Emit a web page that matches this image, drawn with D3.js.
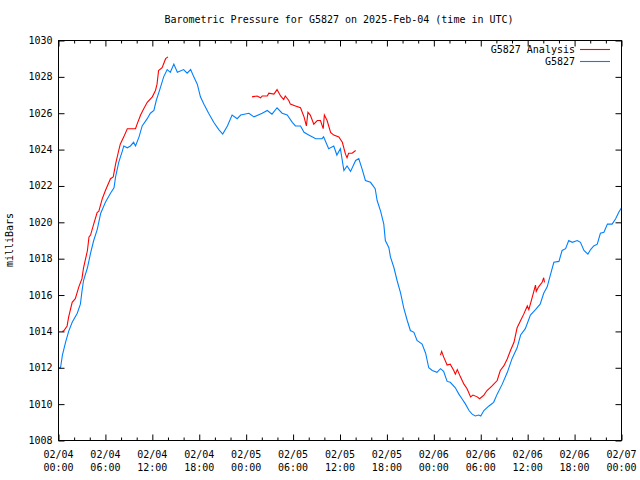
<!DOCTYPE html>
<html><head><meta charset="utf-8">
<script src="https://cdn.jsdelivr.net/npm/d3@7"></script>
<style>body{margin:0;background:#fff}svg{display:block}text{font-family:"DejaVu Sans Mono",monospace;fill:#000}</style>
</head><body>
<script>
const title = "Barometric Pressure for G5827 on 2025-Feb-04 (time in UTC)";
const yLabel = "milliBars";
const seriesNames = ["G5827 Analysis", "G5827"];
const xTickLabels = [["02/04","00:00"],["02/04","06:00"],["02/04","12:00"],["02/04","18:00"],["02/05","00:00"],["02/05","06:00"],["02/05","12:00"],["02/05","18:00"],["02/06","00:00"],["02/06","06:00"],["02/06","12:00"],["02/06","18:00"],["02/07","00:00"]];
const yTicks = [1008,1010,1012,1014,1016,1018,1020,1022,1024,1026,1028,1030];

// hours since 2025-02-04 00:00 UTC
const stationHours = [0,0.26,0.5,0.9,1.3,1.75,2.4,2.8,3.0,3.2,3.7,4.1,4.5,4.95,5.4,6.0,6.65,7.1,7.3,7.7,8.15,8.35,8.8,9.2,9.6,9.85,10.3,10.7,11.35,11.75,12.2,12.5,12.95,13.45,13.9,14.3,14.75,15.2,16.0,16.45,16.9,17.3,17.75,18.15,18.6,19.2,19.85,20.5,21.0,21.6,22.2,22.85,23.3,24.35,25.0,26.05,26.7,27.3,27.95,28.6,29.25,29.9,30.3,30.95,31.4,32.0,32.9,33.7,33.9,34.55,35.2,35.6,36.05,36.5,36.9,37.35,38.0,38.4,38.85,39.25,39.9,40.5,40.75,41.2,41.6,41.8,42.25,42.45,42.9,43.3,43.75,44.15,44.6,45.0,45.45,45.85,46.5,46.95,47.35,47.8,48.4,48.85,49.25,49.7,50.1,50.75,51.2,51.6,52.05,52.5,52.9,53.3,53.75,54.0,54.4,55.05,55.65,56.1,56.75,57.4,58.0,58.65,59.1,59.7,60.35,61.0,61.6,62.05,62.5,62.9,63.35,64.0,64.4,64.85,65.25,65.7,66.35,66.75,67.2,67.7,68.05,68.45,68.9,69.3,69.75,70.2,70.8,71.25,71.65,72.0];
const stationValues = [1012.0,1012.0,1012.7,1013.4,1014.0,1014.5,1015.0,1015.5,1016.2,1016.8,1017.5,1018.3,1019.0,1019.6,1020.5,1021.1,1021.6,1021.9,1022.5,1023.3,1023.9,1024.2,1024.1,1024.2,1024.4,1024.2,1024.7,1025.3,1025.7,1026.0,1026.15,1026.7,1027.3,1028.0,1028.4,1028.25,1028.7,1028.25,1028.4,1028.2,1028.4,1028.0,1027.6,1026.9,1026.5,1026.0,1025.5,1025.1,1024.85,1025.3,1025.9,1025.7,1025.9,1026.0,1025.8,1026.0,1026.15,1025.95,1026.3,1026.0,1025.9,1025.5,1025.3,1025.3,1024.95,1024.8,1024.6,1024.6,1024.7,1024.05,1024.2,1023.7,1024.05,1022.85,1023.1,1022.8,1023.4,1023.5,1022.9,1022.3,1022.2,1021.85,1021.2,1020.6,1019.9,1019.0,1018.6,1018.1,1017.5,1016.8,1016.1,1015.3,1014.6,1014.05,1013.95,1013.5,1013.3,1012.8,1012.0,1011.85,1011.75,1011.95,1011.8,1011.25,1011.2,1010.9,1010.55,1010.3,1010.0,1009.65,1009.45,1009.35,1009.4,1009.35,1009.65,1009.9,1010.1,1010.55,1011.1,1011.75,1012.5,1013.1,1013.8,1014.15,1014.9,1015.2,1015.5,1016.1,1016.45,1017.1,1017.8,1017.85,1018.45,1018.55,1019.0,1018.9,1019.0,1018.9,1018.45,1018.25,1018.5,1018.7,1018.8,1019.4,1019.45,1019.9,1019.9,1020.2,1020.55,1020.8];

// analysis series; null marks a gap in the record
const analysisHours = [0.5,0.7,1.1,1.3,1.75,2.15,2.6,3.0,3.2,3.7,3.9,4.1,4.5,4.95,5.15,5.6,6.0,6.65,7.0,7.3,7.7,7.9,8.35,8.8,9.85,10.05,10.5,10.9,11.35,12.0,12.4,12.6,12.8,13.25,13.7,14.0,
  null,
  24.75,25.4,25.85,26.05,26.7,26.9,27.55,27.95,28.4,28.8,29.0,29.45,29.65,30.3,30.95,31.4,31.7,31.9,32.2,32.65,33.1,33.5,33.85,34.0,34.35,34.8,35.2,35.85,36.3,36.7,36.9,37.1,37.55,38.0,
  null,
  48.85,49.0,49.25,49.7,50.1,50.55,50.75,51.0,51.4,51.85,52.25,52.7,53.0,53.55,53.85,54.4,54.8,55.45,56.1,56.5,56.95,57.4,57.8,58.25,58.65,59.1,59.5,59.95,60.15,60.6,61.0,61.1,61.4,61.85,62.05,62.15];
const analysisValues = [1014.0,1014.05,1014.3,1014.8,1015.6,1015.8,1016.45,1016.9,1017.5,1018.45,1019.2,1019.3,1019.9,1020.55,1020.6,1021.3,1021.75,1022.4,1022.5,1023.2,1023.95,1024.3,1024.7,1025.15,1025.15,1025.4,1025.9,1026.25,1026.6,1026.9,1027.25,1027.6,1028.35,1028.5,1029.0,1029.1,
  null,
  1026.9,1026.95,1026.85,1026.95,1026.95,1027.1,1027.05,1027.3,1026.95,1026.75,1026.95,1026.7,1026.5,1026.4,1026.3,1025.8,1025.3,1026.05,1025.9,1025.4,1025.6,1025.6,1025.15,1025.9,1025.6,1024.95,1024.8,1024.7,1024.4,1023.75,1023.55,1023.8,1023.8,1023.95,
  null,
  1012.7,1012.9,1012.6,1012.15,1012.2,1011.85,1011.65,1011.9,1011.5,1011.1,1010.85,1010.4,1010.5,1010.4,1010.3,1010.5,1010.75,1011.0,1011.3,1011.85,1012.1,1012.5,1012.95,1013.4,1014.2,1014.6,1014.95,1015.4,1015.2,1015.9,1016.55,1016.2,1016.45,1016.7,1016.95,1016.7];

const colors = ["#ff0000", "#0080ff"];

const W = 640, H = 480;
const L = 58.5, R = 621.5, T = 40.5, B = 440.5;
const svg = d3.select("body").append("svg").attr("width", W).attr("height", H);

const t0 = new Date(Date.UTC(2025,1,4,0,0));
const toDate = h => new Date(t0.getTime() + h*3600e3);
const x = d3.scaleUtc().domain([toDate(0), toDate(72)]).range([L, R]);
const y = d3.scaleLinear().domain([1008, 1030]).range([B, T]);

const majorTicks = d3.range(0, 73, 6).map(toDate);
const minorTicks = d3.range(0, 73, 2).filter(h => h % 6 !== 0).map(toDate);

// series
const stationData = stationHours.map((h,i) => ({t: toDate(h), v: stationValues[i]}));
const analysisData = analysisHours.map((h,i) => ({t: h === null ? null : toDate(h), v: analysisValues[i]}));
const line = d3.line().defined(d => d.t !== null && d.v !== null).x(d => x(d.t)).y(d => y(d.v));

svg.append("clipPath").attr("id","c").append("rect").attr("x",L).attr("y",T).attr("width",R-L).attr("height",B-T);
const plot = svg.append("g").attr("clip-path","url(#c)");
plot.append("path").datum(stationData).attr("d", line).attr("fill","none").attr("stroke",colors[1]).attr("stroke-width",1.1);
plot.append("path").datum(analysisData).attr("d", line).attr("fill","none").attr("stroke",colors[0]).attr("stroke-width",1.1);

// axes (ticks inward, mirrored)
const tickFmt = () => "";
const bottomMajor = d3.axisBottom(x).tickValues(majorTicks).tickSize(-6).tickFormat(tickFmt);
const bottomMinor = d3.axisBottom(x).tickValues(minorTicks).tickSize(-3).tickFormat(tickFmt);
const topMajor = d3.axisTop(x).tickValues(majorTicks).tickSize(-6).tickFormat(tickFmt);
const topMinor = d3.axisTop(x).tickValues(minorTicks).tickSize(-3).tickFormat(tickFmt);
const leftAx = d3.axisLeft(y).tickValues(yTicks).tickSize(-6).tickFormat(tickFmt);
const rightAx = d3.axisRight(y).tickValues(yTicks).tickSize(-6).tickFormat(tickFmt);

function styleAxis(g){ g.select(".domain").remove(); g.selectAll("line").attr("stroke","#000").attr("stroke-width",1); g.selectAll("text").remove(); }
svg.append("g").attr("transform",`translate(0,${B})`).call(bottomMajor).call(styleAxis);
svg.append("g").attr("transform",`translate(0,${B})`).call(bottomMinor).call(styleAxis);
svg.append("g").attr("transform",`translate(0,${T})`).call(topMajor).call(styleAxis);
svg.append("g").attr("transform",`translate(0,${T})`).call(topMinor).call(styleAxis);
svg.append("g").attr("transform",`translate(${L},0)`).call(leftAx).call(styleAxis);
svg.append("g").attr("transform",`translate(${R},0)`).call(rightAx).call(styleAxis);

svg.append("rect").attr("x",L).attr("y",T).attr("width",R-L).attr("height",B-T).attr("fill","none").attr("stroke","#000").attr("stroke-width",1);

// y tick labels
svg.append("g").selectAll("text").data(yTicks).join("text")
  .attr("x", L-6).attr("y", d => y(d)).attr("dy","0.35em").attr("text-anchor","end").attr("font-size",10).text(d => d);

// x tick labels
const xl = svg.append("g").selectAll("g").data(majorTicks).join("g");
xl.append("text").attr("x", d => x(d)).attr("y", 458).attr("text-anchor","middle").attr("font-size",10).text((d,i)=>xTickLabels[i][0]);
xl.append("text").attr("x", d => x(d)).attr("y", 471).attr("text-anchor","middle").attr("font-size",10).text((d,i)=>xTickLabels[i][1]);

// title & y label
svg.append("text").attr("x", 339).attr("y", 23).attr("text-anchor","middle").attr("font-size",10).text(title);
svg.append("text").attr("transform","translate(13,240) rotate(-90)").attr("text-anchor","middle").attr("font-size",10).text(yLabel);

// legend
const leg = svg.append("g").selectAll("g").data(seriesNames).join("g").attr("transform",(d,i)=>`translate(0,${49.5 + i*12})`);
leg.append("text").attr("x",575).attr("y",0).attr("dy","0.35em").attr("text-anchor","end").attr("font-size",10).text(d=>d);
leg.append("line").attr("x1",580).attr("x2",610).attr("y1",0).attr("y2",0).attr("stroke",(d,i)=>colors[i]).attr("stroke-width",1.1);
</script>
</body></html>
